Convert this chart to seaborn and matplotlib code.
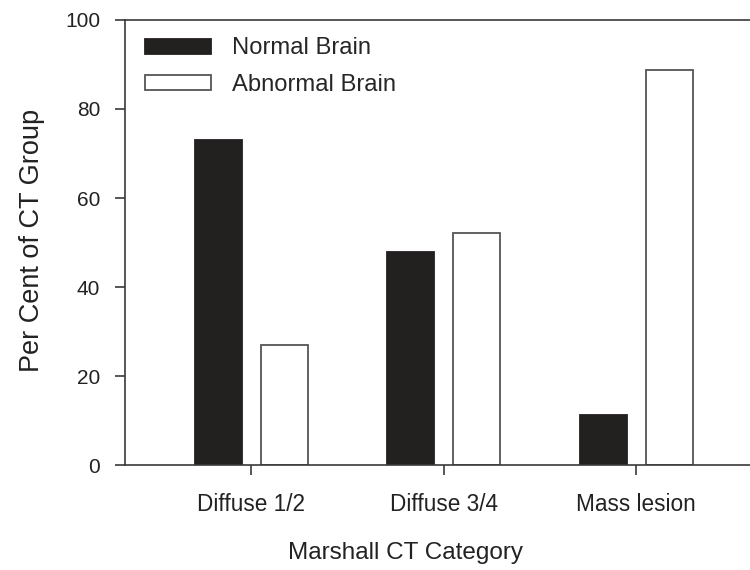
import pandas as pd
import matplotlib
matplotlib.use('Agg')
import matplotlib.pyplot as plt
import seaborn as sns

# 数据
categories = ['Diffuse 1/2', 'Diffuse 3/4', 'Mass lesion']
normal_brain = [73.0, 47.8, 11.2]
abnormal_brain = [27.0, 52.2, 88.8]
groups = ['Normal Brain', 'Abnormal Brain']

df = pd.DataFrame({
    'category': categories * 2,
    'percent': normal_brain + abnormal_brain,
    'group': [groups[0]] * 3 + [groups[1]] * 3,
})

sns.set_style('ticks')
plt.rcParams['font.family'] = ['Liberation Sans', 'DejaVu Sans']

fig = plt.figure(figsize=(7.5, 5.7), dpi=100)
ax = fig.add_axes([0.1667, 0.184, 0.85, 0.781])

line_col = '#3a3a3a'
sns.barplot(data=df, x='category', y='percent', hue='group',
            palette={groups[0]: '#231f20', groups[1]: 'white'},
            width=0.686, gap=0.29, legend=False, ax=ax)

# 边框颜色
for cont, ec in zip(ax.containers, ['#231f20', '#555555']):
    for bar in cont:
        bar.set_edgecolor(ec)
        bar.set_linewidth(1.3)

ax.set_xlim(-0.655, 2.655)
ax.set_ylim(0, 100)
ax.set_yticks([0, 20, 40, 60, 80, 100])

for side in ['left', 'bottom', 'top', 'right']:
    ax.spines[side].set_visible(True)
    ax.spines[side].set_color(line_col)
    ax.spines[side].set_linewidth(1.2)

ax.tick_params(axis='both', direction='out', length=7, width=1.2,
               color=line_col, labelcolor='#222222')
ax.tick_params(axis='x', pad=13, labelsize=16.3)
ax.tick_params(axis='y', pad=11, labelsize=15)

ax.set_xlabel('Marshall CT Category', fontsize=17.5, color='#222222', labelpad=14)
ax.xaxis.set_label_coords(0.44, -0.172)
ax.set_ylabel('Per Cent of CT Group', fontsize=19.5, color='#222222')
ax.yaxis.set_label_coords(-0.125, 0.505)

ax.legend(ax.containers, groups, loc='upper left', frameon=False,
          fontsize=17.1, handlelength=2.8, handleheight=0.6,
          handletextpad=0.85, labelspacing=0.6,
          bbox_to_anchor=(-0.006, 1.014), borderaxespad=0.6)

fig.savefig('out.png', dpi=100)
